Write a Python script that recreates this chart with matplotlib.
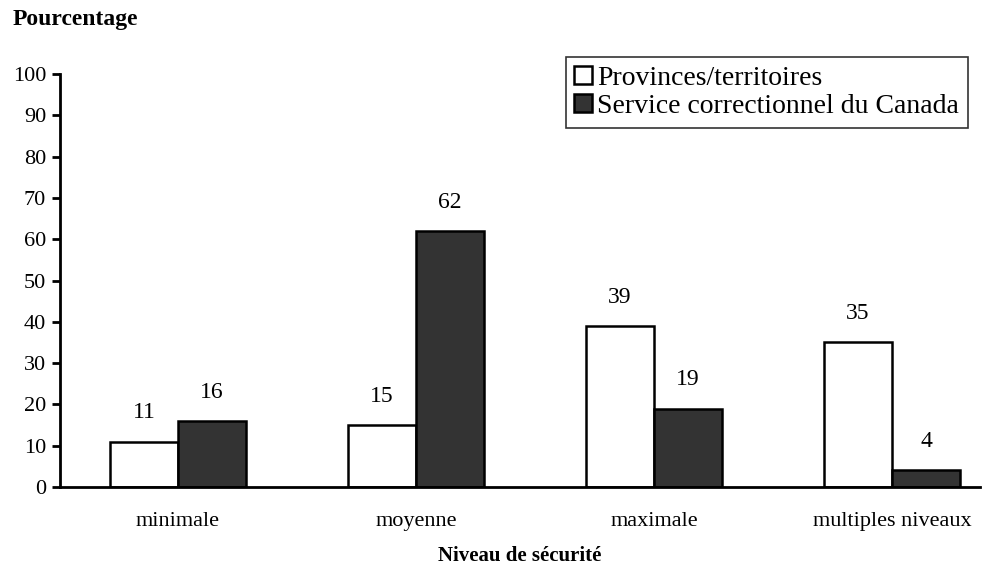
import matplotlib.pyplot as plt
import numpy as np

plt.rcParams['font.family'] = ['Liberation Serif', 'DejaVu Serif']

# Data
niveaux = ["minimale", "moyenne", "maximale", "multiples niveaux"]
provinces = [11, 15, 39, 35]
scc = [16, 62, 19, 4]
series_labels = ["Provinces/territoires", "Service correctionnel du Canada"]

x = np.arange(len(niveaux))
bar_width = 0.286

fig = plt.figure(figsize=(10.03, 5.66), dpi=100)
ax = fig.add_axes([60 / 1003, 1 - 487 / 566, 920 / 1003, 413 / 566])

b1 = ax.bar(x - bar_width / 2, provinces, width=bar_width, color="white",
            edgecolor="black", linewidth=1.8, label=series_labels[0])
b2 = ax.bar(x + bar_width / 2, scc, width=bar_width, color="#333333",
            edgecolor="black", linewidth=1.8, label=series_labels[1])

# Values above the bars
for bars, vals in [(b1, provinces), (b2, scc)]:
    for bar, v in zip(bars, vals):
        ax.text(bar.get_x() + bar.get_width() / 2, v + 7, str(v),
                ha="center", va="center", fontsize=17)

ax.set_xlim(-0.496, 3.37)
ax.set_ylim(0, 100)
ax.set_yticks(range(0, 101, 10))
ax.set_xticks(x)
ax.set_xticklabels(niveaux, fontsize=16)
ax.tick_params(axis="y", labelsize=16, direction="out", length=6, width=2, pad=4)
ax.tick_params(axis="x", length=0, pad=18)

for side in ["top", "right"]:
    ax.spines[side].set_visible(False)
ax.spines["left"].set_linewidth(2)
ax.spines["bottom"].set_linewidth(2)

ax.set_xlabel("Niveau de sécurité", fontsize=15, fontweight="bold", labelpad=11)
fig.text(13 / 1003, 1 - 20 / 566, "Pourcentage", fontsize=17,
         fontweight="bold", va="center", ha="left")

leg = ax.legend(loc="upper right", bbox_to_anchor=(968 / 1003, 1 - 57 / 566),
                bbox_transform=fig.transFigure, fontsize=20, frameon=True,
                fancybox=False, edgecolor="black", handlelength=0.62,
                handleheight=0.62, handletextpad=0.2, borderpad=0.32,
                labelspacing=0.12, borderaxespad=0)
leg.get_frame().set_linewidth(1.2)

fig.savefig("out.png", dpi=100)
